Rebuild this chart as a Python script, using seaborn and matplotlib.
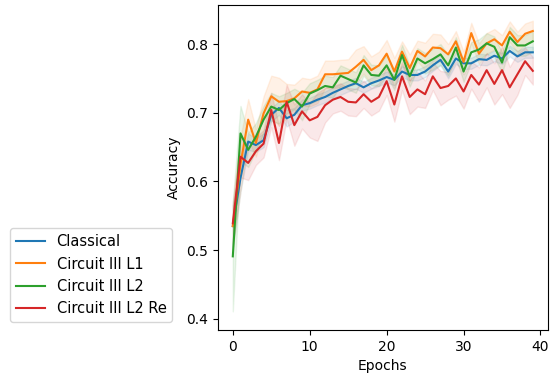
import matplotlib
matplotlib.use("Agg")
import matplotlib.pyplot as plt
import numpy as np
import pandas as pd
import seaborn as sns

epochs = list(range(40))
models = ["Classical", "Circuit III L1", "Circuit III L2", "Circuit III L2 Re"]

classical = [0.535, 0.605, 0.658, 0.653, 0.660, 0.697, 0.707, 0.692, 0.697, 0.711,
             0.714, 0.719, 0.723, 0.729, 0.734, 0.739, 0.743, 0.737, 0.743, 0.747,
             0.752, 0.748, 0.760, 0.755, 0.755, 0.760, 0.769, 0.777, 0.760, 0.779,
             0.772, 0.772, 0.778, 0.777, 0.783, 0.779, 0.790, 0.782, 0.788, 0.788]
circuit_l1 = [0.535, 0.625, 0.690, 0.656, 0.699, 0.724, 0.716, 0.717, 0.721, 0.731,
              0.729, 0.734, 0.756, 0.756, 0.757, 0.758, 0.767, 0.777, 0.762, 0.769,
              0.786, 0.760, 0.789, 0.765, 0.790, 0.782, 0.795, 0.794, 0.785, 0.804,
              0.774, 0.816, 0.786, 0.801, 0.807, 0.798, 0.818, 0.803, 0.815, 0.819]
circuit_l2 = [0.491, 0.670, 0.646, 0.665, 0.690, 0.709, 0.704, 0.714, 0.720, 0.709,
              0.728, 0.733, 0.739, 0.737, 0.754, 0.749, 0.744, 0.769, 0.755, 0.754,
              0.769, 0.748, 0.784, 0.753, 0.779, 0.772, 0.778, 0.785, 0.769, 0.795,
              0.760, 0.788, 0.792, 0.801, 0.796, 0.773, 0.810, 0.798, 0.798, 0.804]
circuit_l2_re = [0.539, 0.636, 0.627, 0.644, 0.655, 0.704, 0.656, 0.716, 0.682, 0.702,
                 0.689, 0.694, 0.711, 0.719, 0.723, 0.716, 0.715, 0.727, 0.716, 0.723,
                 0.746, 0.712, 0.753, 0.723, 0.734, 0.727, 0.753, 0.736, 0.739, 0.750,
                 0.731, 0.755, 0.741, 0.762, 0.742, 0.762, 0.737, 0.756, 0.775, 0.761]

# spread (std across runs) per epoch
classical_sd = [0.030, 0.020, 0.012, 0.010, 0.010, 0.010, 0.010, 0.012, 0.010, 0.008,
                0.008, 0.008, 0.008, 0.008, 0.008, 0.008, 0.008, 0.008, 0.008, 0.008,
                0.008, 0.008, 0.008, 0.008, 0.008, 0.008, 0.008, 0.008, 0.010, 0.008,
                0.008, 0.008, 0.008, 0.008, 0.008, 0.008, 0.008, 0.008, 0.008, 0.008]
circuit_l1_sd = [0.030, 0.040, 0.030, 0.020, 0.025, 0.030, 0.035, 0.025, 0.020, 0.020,
                 0.020, 0.020, 0.020, 0.020, 0.020, 0.020, 0.025, 0.020, 0.020, 0.020,
                 0.020, 0.020, 0.015, 0.020, 0.015, 0.020, 0.020, 0.020, 0.015, 0.015,
                 0.015, 0.015, 0.015, 0.015, 0.015, 0.015, 0.015, 0.015, 0.015, 0.015]
circuit_l2_sd = [0.080, 0.040, 0.025, 0.020, 0.020, 0.020, 0.020, 0.015, 0.015, 0.020,
                 0.015, 0.015, 0.015, 0.015, 0.015, 0.015, 0.015, 0.015, 0.015, 0.015,
                 0.015, 0.015, 0.015, 0.015, 0.015, 0.015, 0.015, 0.015, 0.015, 0.015,
                 0.015, 0.015, 0.015, 0.015, 0.015, 0.015, 0.015, 0.015, 0.015, 0.015]
circuit_l2_re_sd = [0.030, 0.030, 0.025, 0.020, 0.020, 0.025, 0.025, 0.025, 0.030, 0.025,
                    0.025, 0.035, 0.025, 0.020, 0.020, 0.020, 0.020, 0.020, 0.020, 0.020,
                    0.020, 0.025, 0.020, 0.025, 0.025, 0.020, 0.020, 0.025, 0.020, 0.025,
                    0.025, 0.020, 0.025, 0.025, 0.030, 0.035, 0.030, 0.030, 0.020, 0.020]

means = [classical, circuit_l1, circuit_l2, circuit_l2_re]
sds = [classical_sd, circuit_l1_sd, circuit_l2_sd, circuit_l2_re_sd]

rows = []
for name, m, s in zip(models, means, sds):
    for e, mu, sd in zip(epochs, m, s):
        for k in (-1, 0, 1):
            rows.append({"Epochs": e, "Accuracy": mu + k * sd, "Model": name})
df = pd.DataFrame(rows)

fig = plt.figure(figsize=(5.5, 3.77), dpi=100)
ax = fig.add_axes([0.396, 0.125, 0.6, 0.862])
sns.lineplot(data=df, x="Epochs", y="Accuracy", hue="Model", hue_order=models,
             errorbar="sd", err_kws={"alpha": 0.1}, ax=ax)
ax.set_ylim(0.384, 0.857)
ax.set_xticks([0, 10, 20, 30, 40])
ax.set_yticks([0.4, 0.5, 0.6, 0.7, 0.8])

handles, labels = ax.get_legend_handles_labels()
ax.legend(handles, labels, loc="lower left", bbox_to_anchor=(0.018, 0.146),
          bbox_transform=fig.transFigure, borderaxespad=0, fontsize=10.5)

plt.savefig("out.png", dpi=100)
